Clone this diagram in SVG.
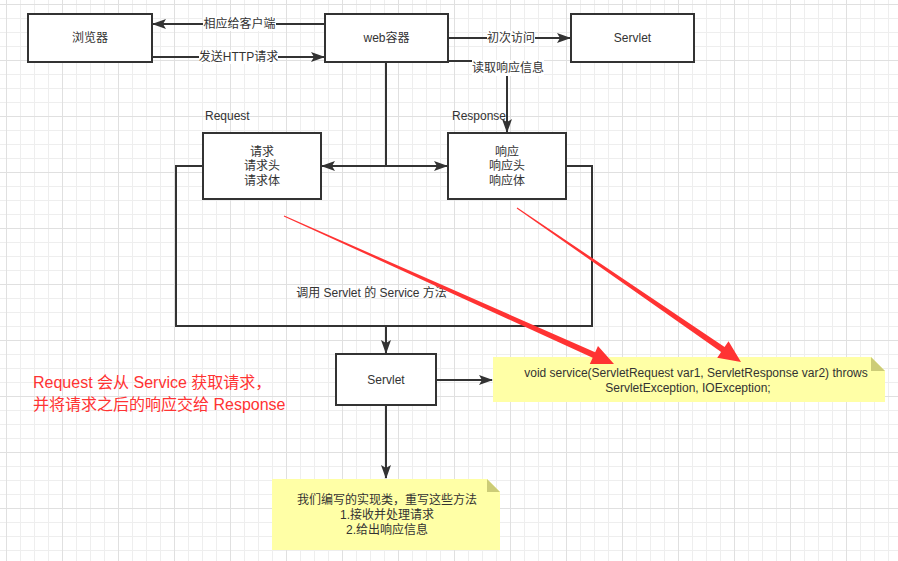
<svg xmlns="http://www.w3.org/2000/svg" width="898" height="561" viewBox="0 0 898 561">
<defs>
<pattern id="grid" x="6" y="4" width="56" height="56" patternUnits="userSpaceOnUse">
<path d="M14.5,0 V56 M28.5,0 V56 M42.5,0 V56 M0,14.5 H56 M0,28.5 H56 M0,42.5 H56" stroke="#eeeeee" stroke-width="1" fill="none"/>
<path d="M0.5,0 V56 M0,0.5 H56" stroke="#e0e0e0" stroke-width="1" fill="none"/>
</pattern>
<marker id="arr" viewBox="0 0 14 10" refX="13" refY="5" markerWidth="14" markerHeight="10" markerUnits="userSpaceOnUse" orient="auto">
<path d="M0,0 L14,5 L0,10 L3,5 Z" fill="#333"/>
</marker>
<marker id="arrS" viewBox="0 0 14 10" refX="13" refY="5" markerWidth="14" markerHeight="10" markerUnits="userSpaceOnUse" orient="auto-start-reverse">
<path d="M0,0 L14,5 L0,10 L3,5 Z" fill="#333"/>
</marker>
</defs>
<style>
.box{fill:#fff;stroke:#333;stroke-width:2}
.t{font-family:"Liberation Sans","Noto Sans CJK SC",sans-serif;font-size:12px;fill:#333;text-anchor:middle;dominant-baseline:central}
.tl{font-family:"Liberation Sans","Noto Sans CJK SC",sans-serif;font-size:12px;fill:#333;dominant-baseline:central}
.e{fill:none;stroke:#333;stroke-width:2}
.lbg{fill:#fff}
.note{fill:#ffffa6}
.fold{fill:#cccc77}
.red{font-family:"Liberation Sans","Noto Sans CJK SC",sans-serif;font-size:16px;fill:#ff3333;dominant-baseline:central}
</style>
<rect width="898" height="561" fill="#fff"/>
<rect width="898" height="561" fill="url(#grid)"/>

<g id="connectors">
<path class="e" d="M325,24 H153" marker-end="url(#arr)"/>
<path class="e" d="M152,57 H324" marker-end="url(#arr)"/>
<path class="e" d="M448,38 H570" marker-end="url(#arr)"/>
<path class="e" d="M448,61 H507 V132" marker-end="url(#arr)"/>
<path class="e" d="M386,62 V166 H322" marker-end="url(#arr)"/>
<path class="e" d="M386,166 H447" marker-end="url(#arr)"/>
<path class="e" d="M203,166 H176 V326 H592 V166 H566"/>
<path class="e" d="M386,326 V353" marker-end="url(#arr)"/>
<path class="e" d="M436,380 H492" marker-end="url(#arr)"/>
<path class="e" d="M386,405 V478" marker-end="url(#arr)"/>
<rect class="lbg" x="203" y="17" width="73" height="14"/>
<text class="t" x="239.5" y="24">相应给客户端</text>
<rect class="lbg" x="199" y="50" width="79" height="14"/>
<text class="t" x="238.5" y="57">发送HTTP请求</text>
<rect class="lbg" x="487" y="31" width="48" height="14"/>
<text class="t" x="511" y="38">初次访问</text>
<rect class="lbg" x="472" y="60" width="72" height="16"/>
<text class="t" x="508" y="68">读取响应信息</text>
</g>

<g id="browser">
<rect class="box" x="28" y="14" width="124" height="48"/>
<text class="t" x="90" y="38">浏览器</text>
</g>
<g id="web-container">
<rect class="box" x="325" y="14" width="123" height="48"/>
<text class="t" x="386.5" y="38">web容器</text>
</g>
<g id="servlet-top">
<rect class="box" x="571" y="14" width="123" height="48"/>
<text class="t" x="632.5" y="38">Servlet</text>
</g>
<g id="request-label">
<text class="tl" x="205" y="116">Request</text>
</g>
<g id="response-label">
<text class="tl" x="452" y="116">Response</text>
</g>
<g id="request">
<rect class="box" x="203" y="133" width="118" height="66"/>
<text class="t" x="262" y="152">请求</text>
<text class="t" x="262" y="166">请求头</text>
<text class="t" x="262" y="181">请求体</text>
</g>
<g id="response">
<rect class="box" x="448" y="133" width="118" height="66"/>
<text class="t" x="507" y="152">响应</text>
<text class="t" x="507" y="166">响应头</text>
<text class="t" x="507" y="181">响应体</text>
</g>
<g id="call-service">
<text class="t" x="371.5" y="293">调用 Servlet 的 Service 方法</text>
</g>
<g id="servlet-mid">
<rect class="box" x="336" y="354" width="100" height="51"/>
<text class="t" x="386" y="380">Servlet</text>
</g>
<g id="note-service">
<polygon class="note" points="493,357 871,357 885,371 885,402 493,402"/>
<polygon class="fold" points="871,357 871,371 885,371"/>
<text class="t" x="696" y="373">void service(ServletRequest var1, ServletResponse var2) throws</text>
<text class="t" x="688" y="388">ServletException, IOException;</text>
</g>
<g id="note-impl">
<polygon class="note" points="272,479 487,479 500,492 500,550 272,550"/>
<polygon class="fold" points="487,479 487,492 500,492"/>
<text class="t" x="387" y="500">我们编写的实现类，重写这些方法</text>
<text class="t" x="387" y="515">1.接收并处理请求</text>
<text class="t" x="387" y="530">2.给出响应信息</text>
</g>
<g id="red-note">
<text class="red" x="33" y="382">Request 会从 Service 获取请求，</text>
<text class="red" x="33" y="404">并将请求之后的响应交给 Response</text>
</g>
<g id="red-arrows" fill="#ff3333">
<polygon points="283.8,216.46 592.67,357.74 589.81,364.12 614,364 597.99,345.88 595.13,352.26 284.2,215.54"/>
<polygon points="516.72,208.41 721.17,352.0 717.2,357.77 741,362 728.54,341.29 724.57,347.06 517.28,207.59"/>
</g>
</svg>
